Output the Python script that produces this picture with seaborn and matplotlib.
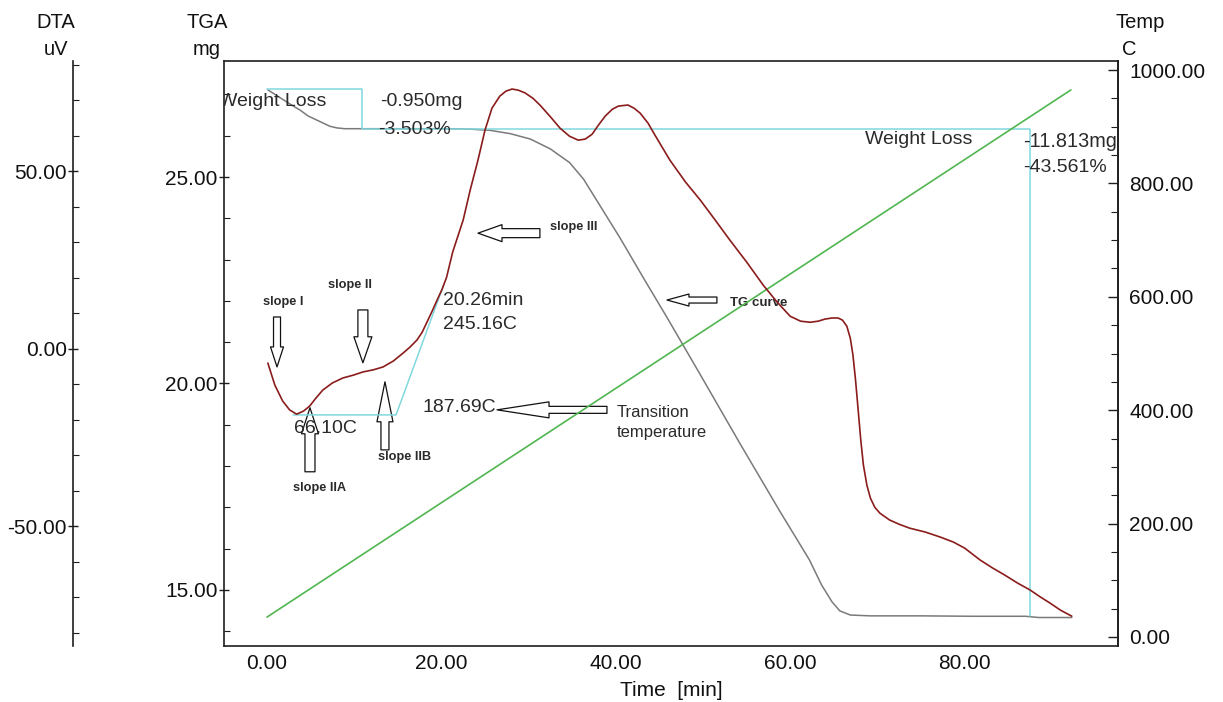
import matplotlib
matplotlib.use("Agg")
import matplotlib.pyplot as plt
import seaborn as sns
from matplotlib.ticker import FixedLocator, MultipleLocator, FormatStrFormatter

# ---------------- measured traces ----------------
# DTA signal (uV) against time (min)
dta_time = [0.1, 0.9, 1.8, 2.6, 3.4, 4.2, 4.9, 5.6, 6.4, 7.5, 8.7, 9.9, 11.0, 12.2,
            13.3, 14.5, 15.6, 16.4, 17.2, 17.8, 18.3, 18.9, 19.5, 20.1, 20.6, 21.3,
            22.5, 23.3, 24.2, 25.0, 25.8, 26.7, 27.4, 28.1, 28.8, 29.6, 30.5, 31.3,
            32.5, 33.6, 34.7, 35.7, 36.5, 37.3, 38.0, 38.8, 39.6, 40.3, 41.4, 42.1,
            42.8, 43.7, 44.5, 46.2, 48.0, 49.7, 51.4, 53.1, 55.0, 56.9, 58.5, 60.0,
            61.2, 62.3, 63.2, 64.0, 64.8, 65.5, 66.0, 66.5, 66.9, 67.2, 67.5, 67.8,
            68.1, 68.4, 68.8, 69.2, 69.7, 70.3, 71.4, 72.5, 73.7, 75.5, 77.2, 78.7,
            80.0, 81.8, 83.2, 84.6, 86.1, 87.5, 88.7, 89.8, 91.0, 92.3]
dta_uv = [-4.0, -10.2, -14.7, -17.2, -18.4, -17.5, -16.1, -13.9, -11.6, -9.6, -8.2,
          -7.4, -6.5, -5.9, -5.1, -3.4, -1.2, 0.5, 2.5, 4.7, 7.3, 10.4, 13.7, 16.9,
          20.2, 27.3, 36.3, 44.7, 53.2, 61.6, 67.8, 71.2, 72.6, 73.2, 72.9, 72.1,
          70.6, 68.7, 65.4, 62.2, 59.9, 58.8, 59.1, 60.5, 63.0, 65.6, 67.5, 68.4,
          68.7, 67.8, 66.4, 63.6, 60.2, 53.2, 47.0, 41.9, 36.3, 30.6, 24.5, 18.0,
          13.2, 9.2, 7.8, 7.5, 7.8, 8.4, 8.7, 8.7, 8.1, 6.4, 3.0, -1.7, -8.8,
          -17.2, -25.7, -32.7, -38.4, -42.0, -44.6, -46.3, -48.2, -49.4, -50.5,
          -51.6, -53.0, -54.4, -56.1, -59.5, -61.7, -63.7, -66.0, -67.9, -69.9,
          -71.6, -73.6, -75.3]

# TGA sample mass (mg) against time (min)
tga_time = [0.1, 1.0, 2.1, 3.0, 3.8, 4.7, 5.5, 6.4, 7.2, 8.0, 8.9, 10.7, 14.0, 17.5,
            21.0, 23.3, 25.6, 27.9, 30.2, 32.5, 34.7, 36.3, 37.8, 40.5, 43.3, 45.9,
            49.7, 54.2, 58.8, 62.2, 63.6, 64.8, 65.7, 66.9, 69.2, 75.0, 81.0, 87.0,
            88.5, 92.3]
tga_mg = [27.11, 26.99, 26.84, 26.72, 26.62, 26.48, 26.40, 26.31, 26.23, 26.19,
          26.17, 26.17, 26.17, 26.17, 26.17, 26.16, 26.13, 26.05, 25.92, 25.68,
          25.35, 24.95, 24.44, 23.52, 22.51, 21.59, 20.21, 18.56, 16.91, 15.73,
          15.12, 14.71, 14.49, 14.39, 14.37, 14.37, 14.36, 14.36, 14.33, 14.33]

# furnace temperature programme (C)
temp_time = [0.0, 92.2]
temp_c = [35.0, 965.0]

# axis ticks
x_ticks = [0, 20, 40, 60, 80]
tga_ticks = [15, 20, 25]
temp_ticks = [0, 200, 400, 600, 800, 1000]
dta_ticks = [-50, 0, 50]

# weight-loss evaluation
initial_mass = 27.12
loss_1_mg, loss_1_pct = 0.950, 3.503
loss_2_mg, loss_2_pct = 11.813, 43.561
loss_1_end = 10.9
loss_2_end = 87.5

# onset construction on the DTA trace
onset_base_uv = -18.6
onset_start, onset_corner, onset_end = 3.0, 14.8, 20.26
onset_end_uv = 18.0
onset_end_temp = 245.16
min_temp = 66.10
transition_temp = 187.69

# ---------------- styling ----------------
sns.set_style("white")
plt.rcParams["font.family"] = ["Liberation Sans", "DejaVu Sans"]

W, H = 1223, 702
L, R, T, B = 224, 1118, 61, 646
fig = plt.figure(figsize=(W / 100, H / 100), dpi=100)
ax = fig.add_axes([L / W, 1 - B / H, (R - L) / W, (B - T) / H])
ax_temp = ax.twinx()
ax_dta = ax.twinx()

frame = "#1e1e1e"
red, gray, green, cyan = "#8a1c1c", "#7a7a7a", "#50b650", "#80d8df"
ink = "#2a2a2a"

# ---------------- curves ----------------
sns.lineplot(x=tga_time, y=tga_mg, ax=ax, color=gray, lw=1.1,
             estimator=None, sort=False)

m1 = initial_mass - loss_1_mg
m2 = m1 - loss_2_mg
sns.lineplot(x=[0, loss_1_end, loss_1_end, loss_2_end, loss_2_end],
             y=[initial_mass, initial_mass, m1, m1, m2],
             ax=ax, color=cyan, lw=1.1, estimator=None, sort=False)

sns.lineplot(x=temp_time, y=temp_c, ax=ax_temp, color=green, lw=1.2,
             estimator=None, sort=False)

sns.lineplot(x=[onset_start, onset_corner, onset_end],
             y=[onset_base_uv, onset_base_uv, onset_end_uv],
             ax=ax_dta, color=cyan, lw=1.1, estimator=None, sort=False)
sns.lineplot(x=dta_time, y=dta_uv, ax=ax_dta, color=red, lw=1.2,
             estimator=None, sort=False)

# ---------------- axes ----------------
ax.set_xlim(-4.93, 97.6)
ax.set_ylim(13.64, 27.81)
ax_temp.set_ylim(-16, 1016)
ax_dta.set_ylim(-83.7, 81.1)
for a in (ax, ax_temp, ax_dta):
    a.set_xlabel("")
    a.set_ylabel("")

fmt = FormatStrFormatter("%.2f")
ax.xaxis.set_major_locator(FixedLocator(x_ticks))
ax.xaxis.set_minor_locator(MultipleLocator(5))
ax.xaxis.set_major_formatter(fmt)
ax.yaxis.set_major_locator(FixedLocator(tga_ticks))
ax.yaxis.set_minor_locator(MultipleLocator(1))
ax.yaxis.set_major_formatter(fmt)
ax_temp.yaxis.set_major_locator(FixedLocator(temp_ticks))
ax_temp.yaxis.set_minor_locator(MultipleLocator(50))
ax_temp.yaxis.set_major_formatter(fmt)
ax_dta.yaxis.set_major_locator(FixedLocator(dta_ticks))
ax_dta.yaxis.set_minor_locator(MultipleLocator(10))
ax_dta.yaxis.set_major_formatter(fmt)

for s in ax.spines.values():
    s.set_color(frame)
    s.set_linewidth(1.2)
for name in ("top", "bottom", "left"):
    ax_temp.spines[name].set_visible(False)
ax_temp.spines["right"].set_color(frame)
ax_temp.spines["right"].set_linewidth(1.2)
for name in ("top", "bottom", "right"):
    ax_dta.spines[name].set_visible(False)
ax_dta.spines["left"].set_position(("axes", (73 - L) / (R - L)))
ax_dta.spines["left"].set_color(frame)
ax_dta.spines["left"].set_linewidth(1.2)
ax_dta.yaxis.set_ticks_position("left")
ax_dta.yaxis.set_label_position("left")

lab = dict(labelsize=15, labelcolor="#111111", colors=frame)
ax.tick_params(axis="x", which="major", direction="inout", length=8, width=1, pad=2, **lab)
ax.tick_params(axis="x", which="minor", direction="in", length=4, width=0.8, colors=frame)
ax.tick_params(axis="y", which="major", direction="inout", length=7, width=1, pad=1, **lab)
ax.tick_params(axis="y", which="minor", direction="in", length=4, width=0.8, colors=frame)
ax_dta.tick_params(axis="y", which="major", direction="inout", length=7, width=1, pad=1, **lab)
ax_dta.tick_params(axis="y", which="minor", direction="in", length=4, width=0.8, colors=frame)
ax_temp.tick_params(axis="y", which="major", direction="in", length=7, width=1, pad=8, **lab)
ax_temp.tick_params(axis="y", which="minor", direction="in", length=5, width=0.8, colors=frame)

# axis titles
def fig_text(px, py, s, **kw):
    fig.text(px / W, 1 - py / H, s, color="#111111", **kw)

fig_text(56, 28, "DTA", fontsize=14.5, ha="center", va="baseline")
fig_text(56, 55, "uV", fontsize=14.5, ha="center", va="baseline")
fig_text(207, 28, "TGA", fontsize=14.5, ha="center", va="baseline")
fig_text(207, 55, "mg", fontsize=14.5, ha="center", va="baseline")
fig_text(1140, 28, "Temp", fontsize=14.5, ha="center", va="baseline")
fig_text(1129, 55, "C", fontsize=14.5, ha="center", va="baseline")
fig_text(671, 690, "Time  [min]", fontsize=15, ha="center", va="center")

# ---------------- annotations ----------------
notes = [
    (-5.5, 26.82, "Weight Loss", 14, "normal"),
    (12.96, 26.82, f"{-loss_1_mg:.3f}mg", 14, "normal"),
    (12.73, 26.14, f"{-loss_1_pct:.3f}%", 14, "normal"),
    (68.6, 25.90, "Weight Loss", 14, "normal"),
    (86.7, 25.85, f"{-loss_2_mg:.3f}mg", 14.3, "normal"),
    (86.7, 25.22, f"{-loss_2_pct:.3f}%", 14, "normal"),
    (20.18, 22.02, f"{onset_end:.2f}min", 14, "normal"),
    (20.18, 21.42, f"{onset_end_temp:.2f}C", 14, "normal"),
    (3.1, 18.90, f"{min_temp:.2f}C", 14, "normal"),
    (17.78, 19.41, f"{transition_temp:.2f}C", 14, "normal"),
    (40.14, 19.29, "Transition", 12, "normal"),
    (40.14, 18.80, "temperature", 12, "normal"),
    (-0.46, 21.97, "slope I", 9.2, "bold"),
    (7.0, 22.38, "slope II", 9.2, "bold"),
    (2.98, 17.47, "slope IIA", 9.2, "bold"),
    (12.73, 18.22, "slope IIB", 9.2, "bold"),
    (32.45, 23.79, "slope III", 9.2, "bold"),
    (53.1, 21.95, "TG curve", 9.5, "bold"),
]
for x, y, s, size, weight in notes:
    t = ax.text(x, y, s, fontsize=size, fontweight=weight, color=ink,
                ha="left", va="center", zorder=5)
    t.set_clip_on(True)

# outlined block arrows: tail, tip, shaft width, head width, head length (px)
arrows = [
    ((1.15, 21.61), (1.15, 20.40), 7, 13, 20),
    ((11.0, 21.78), (11.0, 20.50), 10, 18, 26),
    ((4.93, 17.86), (4.93, 19.41), 10, 17, 26),
    ((13.53, 18.39), (13.53, 20.04), 8, 16, 40),
    ((31.3, 23.64), (24.2, 23.64), 9, 17, 24),
    ((51.6, 22.02), (45.87, 22.02), 6, 12, 22),
    ((38.99, 19.36), (26.38, 19.36), 7, 16, 52),
]
for tail, tip, sw, hw, hl in arrows:
    ax.annotate("", xy=tip, xytext=tail, xycoords="data", textcoords="data",
                zorder=3,
                arrowprops=dict(
                    arrowstyle=f"simple,head_length={hl},head_width={hw},tail_width={sw}",
                    fc="white", ec="#111111", lw=0.9, shrinkA=0, shrinkB=0,
                    mutation_scale=0.72))

fig.savefig("out.png", dpi=100, facecolor="white")
